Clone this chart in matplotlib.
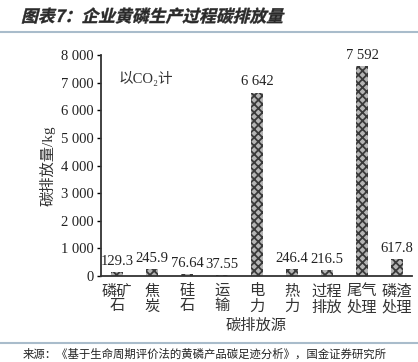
import matplotlib.pyplot as plt
from matplotlib.lines import Line2D
from matplotlib.textpath import TextPath
from matplotlib.patches import PathPatch
from matplotlib.font_manager import FontProperties
from matplotlib.transforms import Affine2D

plt.rcParams['font.family'] = ['Liberation Serif', 'Noto Sans CJK SC']
plt.rcParams['hatch.linewidth'] = 1.3

categories = ['磷矿\n石', '焦\n炭', '硅\n石', '运\n输', '电\n力', '热\n力', '过程\n排放', '尾气\n处理', '磷渣\n处理']
values = [129.3, 245.9, 76.64, 37.55, 6642, 246.4, 216.5, 7592, 617.8]
labels = ['129.3', '245.9', '76.64', '37.55', '6 642', '246.4', '216.5', '7 592', '617.8']
yticks = [0, 1000, 2000, 3000, 4000, 5000, 6000, 7000, 8000]
ytick_labels = ['0', '1 000', '2 000', '3 000', '4 000', '5 000', '6 000', '7 000', '8 000']

DPI = 100
fig = plt.figure(figsize=(4.18, 3.62), dpi=DPI)

# italic-looking title: skew the glyph outlines
title = '图表7：企业黄磷生产过程碳排放量'
tp = TextPath((0, 0), title, size=12.1, prop=FontProperties(family='Noto Sans CJK SC', weight='bold'))
tr = Affine2D().skew_deg(14, 0).scale(DPI / 72).translate(21, 362 - 22)
fig.add_artist(PathPatch(tp, transform=tr, facecolor='#2a2a2a', edgecolor='#2a2a2a', lw=0.3))

fig.add_artist(Line2D([0, 1], [0.912, 0.912], color='#a9bccb', lw=1.5))
fig.add_artist(Line2D([0, 1], [0.052, 0.052], color='#a9bccb', lw=1.5))
fig.text(0.055, 0.021, '来源：《基于生命周期评价法的黄磷产品碳足迹分析》，国金证券研究所', fontsize=8.2,
         color='#222222', ha='left', va='center', family=['Noto Sans CJK SC'])

ax = fig.add_axes([0.2416, 0.2376, 0.744, 0.6104])
x = list(range(len(values)))
ax.bar(x, values, width=0.34, color='#b5b5b5', edgecolor='#3a3a3a', hatch='xxxx', linewidth=0)
for xi, v, lab in zip(x, values, labels):
    ax.annotate(lab, (xi, v), xytext=(0, 3), textcoords='offset points',
                ha='center', va='bottom', fontsize=10.5, color='#222222')

ax.set_xlim(-0.46, 8.43)
ax.set_ylim(0, 8000)
ax.set_yticks(yticks)
ax.set_yticklabels(ytick_labels, fontsize=10.5, color='#222222')
ax.set_xticks(x)
ax.set_xticklabels(categories, fontsize=11, color='#333333', linespacing=1.15)
ax.tick_params(axis='x', length=0, pad=6)
ax.tick_params(axis='y', length=3, width=1, direction='out', pad=2)
for s in ['top', 'right']:
    ax.spines[s].set_visible(False)
for s in ['left', 'bottom']:
    ax.spines[s].set_linewidth(1.3)
    ax.spines[s].set_color('#333333')

ax.set_ylabel('碳排放量/kg', fontsize=11, color='#333333', labelpad=4)
ax.set_xlabel('碳排放源', fontsize=11, color='#333333', labelpad=3)
ax.text(0.055, 0.895, '以CO₂计', transform=ax.transAxes, fontsize=10.5, color='#333333',
        ha='left', va='center')

fig.savefig('out.png', dpi=DPI)
